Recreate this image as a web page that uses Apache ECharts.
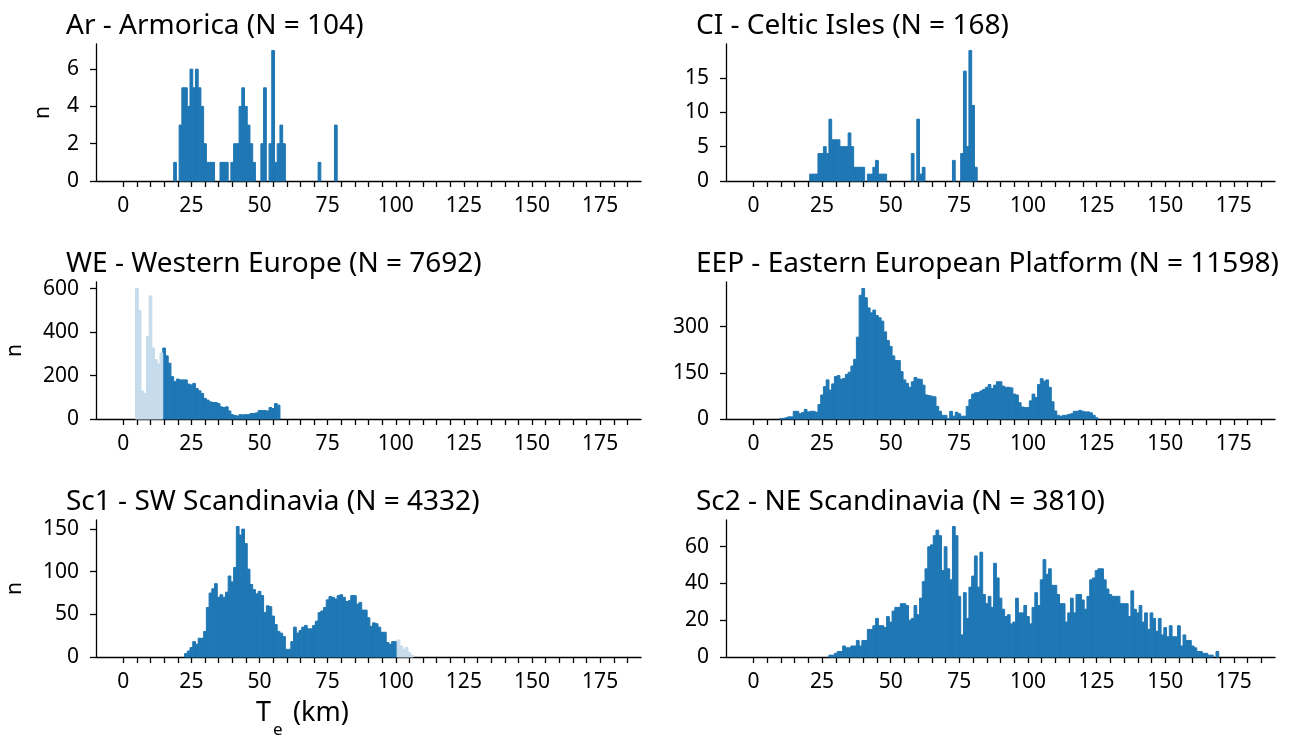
<!DOCTYPE html>
<html>
<head>
<meta charset="utf-8">
<script src="https://cdn.jsdelivr.net/npm/echarts@6/dist/echarts.min.js"></script>
<style>
html,body{margin:0;padding:0;background:#fff;}
#chart{width:1295px;height:745px;}
</style>
</head>
<body>
<div id="chart"></div>
<script>
// ---------- data (bin centre of first bin + counts per 1 km bin) ----------
const titles = [
  'Ar - Armorica (N = 104)',
  'CI - Celtic Isles (N = 168)',
  'WE - Western Europe (N = 7692)',
  'EEP - Eastern European Platform (N = 11598)',
  'Sc1 - SW Scandinavia (N = 4332)',
  'Sc2 - NE Scandinavia (N = 3810)'
];

const arStart = 19;
const arCounts = [1,0,3,5,5,4,6,5,6,5,4,2,1,1,1,0,0,1,1,1,0,1,2,2,4,5,4,3,2,1,0,0,2,5,0,2,7,1,2,3,2,
  0,0,0,0,0,0,0,0,0,0,0,0,1,0,0,0,0,0,3];

const ciStart = 21;
const ciCounts = [1,1,1,4,4,5,4,9,6,6,6,5,5,5,7,5,2,2,2,2,0,1,1,2,3,1,1,1,
  0,0,0,0,0,0,0,0,0,4,0,9,1,2,0,0,0,0,0,0,0,0,0,0,3,0,0,4,16,5,19,11,2];

const weLightStart = 5;
const weLightCounts = [601,500,129,118,381,567,327,273,254,304];
const weStart = 15;
const weCounts = [327,291,257,195,172,184,180,180,180,161,157,164,141,130,118,95,87,79,76,76,71,56,53,56,37,20,16,14,20,19,20,20,25,25,28,39,39,39,37,53,48,71,64];

const eepStart = 10;
const eepCounts = [1,2,4,7,7,25,25,17,21,31,23,25,25,22,47,78,105,127,94,114,138,141,129,132,145,152,172,194,
  266,402,424,394,361,345,354,336,329,318,283,255,236,205,190,190,154,127,116,103,121,135,130,129,110,78,76,74,72,
  41,25,12,12,1,25,9,22,17,9,9,41,63,81,85,86,91,96,103,112,99,110,121,121,107,103,103,101,81,78,53,39,37,37,
  59,81,70,112,131,123,127,103,56,26,12,9,12,12,15,17,25,25,28,25,23,23,20,12,4];

const sc1Start = 23;
const sc1Counts = [4,7,11,18,15,22,22,30,58,75,80,86,70,73,70,76,95,88,105,153,143,150,133,103,85,79,74,77,72,52,60,59,48,38,30,28,24,9,9,18,
  35,28,31,35,37,33,33,37,42,52,54,58,67,71,70,68,72,73,70,65,66,72,72,62,64,55,55,46,36,40,39,35,29,29,17,15,18,18];
const sc1LightStart = 101;
const sc1LightCounts = [20,13,9,11,5,2];

const sc2Start = 28;
const sc2Counts = [1,1,2,3,3,6,5,5,6,6,9,6,9,9,15,15,17,21,17,17,16,22,19,25,27,27,29,29,28,20,21,28,23,32,41,48,60,61,66,69,66,47,60,48,42,71,66,33,12,35,21,38,44,55,38,57,34,29,33,27,51,43,32,26,22,23,18,19,32,24,24,28,22,18,27,35,28,42,53,45,48,39,39,34,29,29,19,24,32,24,34,34,31,26,33,42,43,47,48,48,42,37,34,33,33,33,29,29,29,22,36,26,24,28,19,24,15,24,21,14,21,12,16,11,17,11,11,17,6,12,9,9,6,5,3,3,2,2,1,1,0,3];

const xMin = -10, xMax = 190;
const xTickValues = [0,5,10,15,20,25,30,35,40,45,50,55,60,65,70,75,80,85,90,95,100,105,110,115,120,125,130,135,140,145,150,155,160,165,170,175,180,185];
const xLabelValues = [0,25,50,75,100,125,150,175];
const yTickValues = [[0,2,4,6],[0,5,10,15],[0,200,400,600],[0,150,300],[0,50,100,150],[0,20,40,60]];

// ---------- layout / style ----------
const BLUE = '#1f77b4';
const LIGHT = '#c6dcec';
const FONT = 'Noto Sans';
const BIN = 1;
const grids = [
  {left: 96,  top: 44,  width: 545, height: 137},
  {left: 726, top: 44,  width: 549, height: 137},
  {left: 96,  top: 282, width: 545, height: 137},
  {left: 726, top: 282, width: 549, height: 137},
  {left: 96,  top: 520, width: 545, height: 137},
  {left: 726, top: 520, width: 549, height: 137}
];
const yNameGap = [42, 0, 70, 0, 70, 0];

function toData(start, counts) {
  return counts.map((c, i) => [start + i, c]);
}
const panels = [
  [toData(arStart, arCounts)],
  [toData(ciStart, ciCounts)],
  [toData(weStart, weCounts), toData(weLightStart, weLightCounts)],
  [toData(eepStart, eepCounts)],
  [toData(sc1Start, sc1Counts), toData(sc1LightStart, sc1LightCounts)],
  [toData(sc2Start, sc2Counts)]
];

function renderBar(params, api) {
  const x = api.value(0), y = api.value(1);
  if (!y) return null;
  const p0 = api.coord([x - BIN / 2, y]);
  const p1 = api.coord([x + BIN / 2, 0]);
  const c = api.visual('color');
  return {
    type: 'rect',
    shape: {x: p0[0], y: p0[1], width: p1[0] - p0[0], height: p1[1] - p0[1]},
    style: {fill: c, stroke: c, lineWidth: 1}
  };
}

const axisLineStyle = {color: '#000', width: 1.3};
const option = {
  animation: false,
  backgroundColor: '#fff',
  title: titles.map((t, i) => ({
    text: t,
    left: grids[i].left - 30,
    top: grids[i].top - 32,
    padding: 0,
    textStyle: {fontFamily: FONT, fontSize: 28, fontWeight: 'normal', color: '#000'}
  })),
  grid: grids,
  xAxis: grids.map((g, i) => ({
    type: 'value', gridIndex: i, min: xMin, max: xMax,
    axisLine: {show: true, onZero: false, lineStyle: axisLineStyle},
    axisTick: {show: true, length: 6, lineStyle: axisLineStyle, customValues: xTickValues},
    axisLabel: {show: true, customValues: xLabelValues, margin: 15, fontFamily: FONT, fontSize: 21, color: '#000'},
    splitLine: {show: false}
  })),
  yAxis: grids.map((g, i) => {
    const all = panels[i].flat().map(d => d[1]);
    const m = Math.max.apply(null, all);
    return {
      type: 'value', gridIndex: i, min: 0, max: m * 1.05,
      name: (i % 2 === 0) ? 'n' : '',
      nameLocation: 'middle', nameRotate: 90, nameGap: yNameGap[i],
      nameTextStyle: {fontFamily: FONT, fontSize: 21, color: '#000'},
      axisLine: {show: true, onZero: false, lineStyle: axisLineStyle},
      axisTick: {show: true, length: 6, lineStyle: axisLineStyle, customValues: yTickValues[i]},
      axisLabel: {show: true, customValues: yTickValues[i], margin: 17, fontFamily: FONT, fontSize: 21, color: '#000'},
      splitLine: {show: false}
    };
  }),
  series: [].concat.apply([], panels.map((p, i) => p.map((data, k) => ({
    type: 'custom', xAxisIndex: i, yAxisIndex: i,
    renderItem: renderBar,
    itemStyle: {color: k === 0 ? BLUE : LIGHT},
    encode: {x: 0, y: 1},
    data: data,
    silent: true
  })))),
  graphic: [
    {type: 'text', left: 256, top: 700, style: {text: 'T', fontFamily: FONT, fontSize: 27, fill: '#000'}},
    {type: 'text', left: 273, top: 722, style: {text: 'e', fontFamily: FONT, fontSize: 17, fill: '#000'}},
    {type: 'text', left: 293, top: 700, style: {text: '(km)', fontFamily: FONT, fontSize: 27, fill: '#000'}}
  ]
};

const chart = echarts.init(document.getElementById('chart'), null, {renderer: 'canvas'});
chart.setOption(option);
</script>
</body>
</html>
